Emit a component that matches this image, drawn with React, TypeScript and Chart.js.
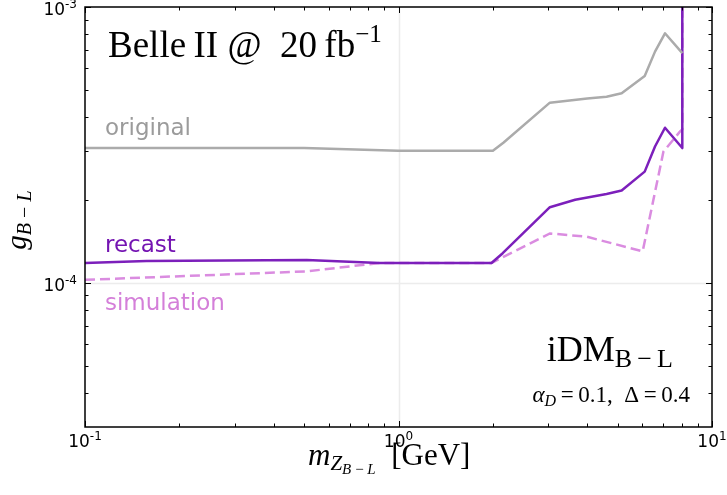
import React, { useEffect, useRef } from "react";
import { Chart, registerables } from "chart.js";
Chart.register(...registerables);

// ---- data ----
const originalX = [0.1, 0.5, 1.0, 2.0, 2.16, 3.04, 4.0, 4.61, 5.15, 6.1, 6.58, 7.08, 8.04];
const originalY = [3.08e-4, 3.08e-4, 3.01e-4, 3.01e-4, 3.22e-4, 4.5e-4, 4.66e-4, 4.73e-4, 4.87e-4, 5.62e-4, 6.89e-4, 8.03e-4, 6.8e-4];

const recastX = [0.1, 0.157, 0.51, 0.87, 1.98, 2.15, 3.04, 3.66, 4.61, 5.15, 6.1, 6.58, 7.08, 8.04, 8.04];
const recastY = [1.18e-4, 1.2e-4, 1.21e-4, 1.18e-4, 1.18e-4, 1.28e-4, 1.88e-4, 2.0e-4, 2.1e-4, 2.16e-4, 2.53e-4, 3.12e-4, 3.65e-4, 3.08e-4, 1.5e-3];

const simulationX = [0.1, 0.51, 0.87, 1.98, 3.04, 3.98, 6.01, 7.0, 7.9, 8.04, 8.04];
const simulationY = [1.025e-4, 1.1e-4, 1.18e-4, 1.18e-4, 1.51e-4, 1.47e-4, 1.3e-4, 2.99e-4, 3.53e-4, 3.6e-4, 1.5e-3];

const xMin = 0.1;
const xMax = 10;
const yMin = 3e-5;
const yMax = 1e-3;

const xMajorTicks = [0.1, 1, 10];
const xMajorExponents = ["-1", "0", "1"];
const xMinorTicks = [0.2, 0.3, 0.4, 0.5, 0.6, 0.7, 0.8, 0.9, 2, 3, 4, 5, 6, 7, 8, 9];
const yMajorTicks = [1e-4, 1e-3];
const yMajorExponents = ["-4", "-3"];
const yMinorTicks = [4e-5, 5e-5, 6e-5, 7e-5, 8e-5, 9e-5, 2e-4, 3e-4, 4e-4, 5e-4, 6e-4, 7e-4, 8e-4, 9e-4];
const xGrid = [1];
const yGrid = [1e-4];

const COLOR_ORIGINAL = "#ababab";
const COLOR_RECAST = "#7c1fbb";
const COLOR_SIM = "#da8ce0";

const SERIF = '"Liberation Serif", "DejaVu Serif", serif';
const SANS = '"DejaVu Sans", sans-serif';

type Seg = { t: string; font: string; dy?: number };

function segsWidth(ctx: CanvasRenderingContext2D, segs: Seg[]) {
  let w = 0;
  for (const s of segs) {
    ctx.font = s.font;
    w += ctx.measureText(s.t).width;
  }
  return w;
}

function drawSegs(
  ctx: CanvasRenderingContext2D,
  segs: Seg[],
  x: number,
  y: number,
  align: "left" | "right" | "center",
  color: string
) {
  const w = segsWidth(ctx, segs);
  let cx = align === "left" ? x : align === "right" ? x - w : x - w / 2;
  ctx.save();
  ctx.fillStyle = color;
  ctx.textAlign = "left";
  ctx.textBaseline = "alphabetic";
  for (const s of segs) {
    ctx.font = s.font;
    ctx.fillText(s.t, cx, y + (s.dy || 0));
    cx += ctx.measureText(s.t).width;
  }
  ctx.restore();
}

const pairs = (xs: number[], ys: number[]) => xs.map((x, i) => ({ x, y: ys[i] }));

const decorPlugin = {
  id: "decor",
  beforeDatasetsDraw(chart: any) {
    const { ctx, chartArea: a, scales } = chart;
    const xs = scales.x;
    const ys = scales.y;
    ctx.save();
    ctx.strokeStyle = "#ececec";
    ctx.lineWidth = 1.5;
    for (const v of xGrid) {
      const px = Math.round(xs.getPixelForValue(v)) + 0.5;
      ctx.beginPath();
      ctx.moveTo(px, a.top);
      ctx.lineTo(px, a.bottom);
      ctx.stroke();
    }
    for (const v of yGrid) {
      const py = Math.round(ys.getPixelForValue(v)) + 0.5;
      ctx.beginPath();
      ctx.moveTo(a.left, py);
      ctx.lineTo(a.right, py);
      ctx.stroke();
    }
    ctx.restore();
  },
  afterDatasetsDraw(chart: any) {
    const { ctx, chartArea: a, scales } = chart;
    const xs = scales.x;
    const ys = scales.y;
    ctx.save();
    // ticks (inward, all four sides)
    ctx.strokeStyle = "#000";
    ctx.lineWidth = 1;
    const tickX = (v: number, len: number) => {
      const px = Math.round(xs.getPixelForValue(v)) + 0.5;
      ctx.beginPath();
      ctx.moveTo(px, a.bottom);
      ctx.lineTo(px, a.bottom - len);
      ctx.moveTo(px, a.top);
      ctx.lineTo(px, a.top + len);
      ctx.stroke();
    };
    const tickY = (v: number, len: number) => {
      const py = Math.round(ys.getPixelForValue(v)) + 0.5;
      ctx.beginPath();
      ctx.moveTo(a.left, py);
      ctx.lineTo(a.left + len, py);
      ctx.moveTo(a.right, py);
      ctx.lineTo(a.right - len, py);
      ctx.stroke();
    };
    xMinorTicks.forEach((v) => tickX(v, 3.5));
    xMajorTicks.forEach((v) => tickX(v, 6));
    yMinorTicks.forEach((v) => tickY(v, 3.5));
    yMajorTicks.forEach((v) => tickY(v, 6));
    // frame
    ctx.lineWidth = 1.5;
    ctx.strokeRect(a.left, a.top, a.right - a.left, a.bottom - a.top);

    // tick labels
    const base = `17px ${SANS}`;
    const sup = `12px ${SANS}`;
    xMajorTicks.forEach((v, i) => {
      const px = xs.getPixelForValue(v);
      drawSegs(ctx, [{ t: "10", font: base }, { t: xMajorExponents[i], font: sup, dy: -7 }], px, a.bottom + 20, "center", "#000");
    });
    yMajorTicks.forEach((v, i) => {
      const py = ys.getPixelForValue(v);
      drawSegs(ctx, [{ t: "10", font: base }, { t: yMajorExponents[i], font: sup, dy: -7 }], a.left - 8, py + 8, "right", "#000");
    });

    // series labels
    const lab = `23px ${SANS}`;
    drawSegs(ctx, [{ t: "original", font: lab }], a.left + 20, 135, "left", "#9b9b9b");
    drawSegs(ctx, [{ t: "recast", font: lab }], a.left + 20, 252, "left", "#7414b2");
    drawSegs(ctx, [{ t: "simulation", font: lab }], a.left + 20, 310, "left", "#d47fd9");

    // title
    drawSegs(
      ctx,
      [
        { t: "Belle\u2009II @\u200220\u2009fb", font: `37px ${SERIF}` },
        { t: "\u22121", font: `25px ${SERIF}`, dy: -15 },
      ],
      108,
      57,
      "left",
      "#000"
    );

    // model label
    drawSegs(
      ctx,
      [
        { t: "iDM", font: `36px ${SERIF}` },
        { t: "B\u2009\u2212\u2009L", font: `26px ${SERIF}`, dy: 6 },
      ],
      673,
      361,
      "right",
      "#000"
    );
    drawSegs(
      ctx,
      [
        { t: "\u03b1", font: `italic 23px ${SERIF}` },
        { t: "D", font: `italic 16px ${SERIF}`, dy: 4 },
        { t: "\u2009=\u20090.1,\u2002\u0394\u2009=\u20090.4", font: `23px ${SERIF}` },
      ],
      690,
      402,
      "right",
      "#000"
    );

    // x axis title
    drawSegs(
      ctx,
      [
        { t: "m", font: `italic 31px ${SERIF}` },
        { t: "Z", font: `italic 21px ${SERIF}`, dy: 5 },
        { t: "B\u2009\u2212\u2009L", font: `italic 15px ${SERIF}`, dy: 9 },
        { t: "\u2002[GeV]", font: `31px ${SERIF}` },
      ],
      308,
      465,
      "left",
      "#000"
    );

    // y axis title (rotated)
    ctx.save();
    ctx.translate(26, 220);
    ctx.rotate(-Math.PI / 2);
    drawSegs(
      ctx,
      [
        { t: "g", font: `italic 29px ${SERIF}` },
        { t: "B\u2009\u2212\u2009L", font: `italic 20px ${SERIF}`, dy: 5 },
      ],
      0,
      0,
      "center",
      "#000"
    );
    ctx.restore();

    ctx.restore();
  },
};

export default function App() {
  const ref = useRef<HTMLCanvasElement | null>(null);
  useEffect(() => {
    if (!ref.current) return;
    const chart = new Chart(ref.current, {
      type: "line",
      data: {
        datasets: [
          {
            label: "original",
            data: pairs(originalX, originalY),
            borderColor: COLOR_ORIGINAL,
            borderWidth: 2.5,
            pointRadius: 0,
            tension: 0,
            borderJoinStyle: "round",
          },
          {
            label: "recast",
            data: pairs(recastX, recastY),
            borderColor: COLOR_RECAST,
            borderWidth: 2.5,
            pointRadius: 0,
            tension: 0,
            borderJoinStyle: "round",
          },
          {
            label: "simulation",
            data: pairs(simulationX, simulationY),
            borderColor: COLOR_SIM,
            borderWidth: 2.5,
            borderDash: [10, 5],
            pointRadius: 0,
            tension: 0,
          },
        ],
      },
      options: {
        responsive: false,
        animation: false,
        parsing: true,
        layout: { padding: { left: 85, top: 7, right: 15, bottom: 68 } },
        plugins: { legend: { display: false }, tooltip: { enabled: false } },
        scales: {
          x: { type: "logarithmic", min: xMin, max: xMax, display: false },
          y: { type: "logarithmic", min: yMin, max: yMax, display: false },
        },
      },
      plugins: [decorPlugin],
    });
    return () => chart.destroy();
  }, []);
  return (
    <div style={{ position: "fixed", left: 0, top: 0, width: 727, height: 495, background: "#fff" }}>
      <canvas ref={ref} width={727} height={495} style={{ display: "block" }} />
    </div>
  );
}
